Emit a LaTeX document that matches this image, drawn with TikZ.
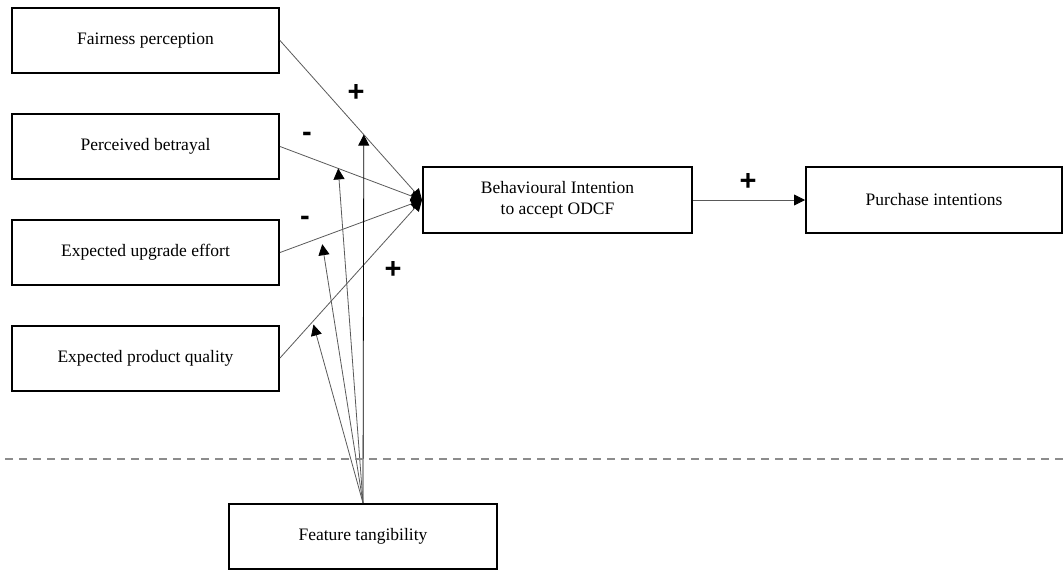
\documentclass[tikz,border=0pt]{standalone}
\usepackage{fontspec}
\setmainfont{Liberation Serif}
\newfontfamily\signfont{Liberation Sans}
\usepackage{tikz}
\usetikzlibrary{arrows.meta, positioning}

\begin{document}
\begin{tikzpicture}[x=1pt, y=-1pt,
        >={Triangle[length=11pt, width=11pt, color=black]},
        factor/.style={draw, line width=2pt, minimum width=267pt, minimum height=65pt,
            inner sep=0pt, align=center, font=\fontsize{17.5}{21}\selectfont},
        link/.style={->, draw=black!65, line width=0.8pt},
        sign/.style={font=\signfont\bfseries\fontsize{29}{29}\selectfont, inner sep=0pt}]
        \useasboundingbox (0, 0) rectangle (1064, 571);

        \node[factor] (fair) at (145.5, 40.5) {Fairness perception};
        \node[factor] (betray) at (145.5, 146.5) {Perceived betrayal};
        \node[factor] (effort) at (145.5, 252.5) {Expected upgrade effort};
        \node[factor] (quality) at (145.5, 358) {Expected product quality};
        \node[factor, minimum width=269pt, minimum height=66pt] (intent) at (557.5, 200) {Behavioural Intention\\to accept ODCF};
        \node[factor, minimum width=256pt, minimum height=66pt] (buy) at (934, 200) {Purchase intentions};
        \node[factor, minimum width=268pt] (tangible) at (363, 536.5) {Feature tangibility};

        \draw[link] (fair.east) -- (intent.west) coordinate[pos=0.59] (m1);
        \draw[link] (betray.east) -- (intent.west) coordinate[pos=0.41] (m2);
        \draw[link] (effort.east) -- (intent.west) coordinate[pos=0.29] (m3);
        \draw[link] (quality.east) -- (intent.west) coordinate[pos=0.23] (m4);
        \draw[link] (intent.east) -- (buy.west);

        % moderating effect
        \draw[link, draw=black] (tangible.north) -- (m1);
        \draw[link] (tangible.north) -- (m2);
        \draw[link, shorten >=7pt] (tangible.north) -- (m3);
        \draw[link, shorten >=3pt] (tangible.north) -- (m4);

        \draw[draw=black!45, line width=1.6pt, dash pattern=on 8pt off 6pt] (5, 459) -- (1064, 459);

        \node[sign] (s1) at (356, 93) {+};
        \node[sign] (s2) at (307, 137) {-};
        \node[sign] (s3) at (305, 221) {-};
        \node[sign] (s4) at (393, 270) {+};
        \node[sign] (s5) at (748, 182) {+};
    \end{tikzpicture}
\end{document}
